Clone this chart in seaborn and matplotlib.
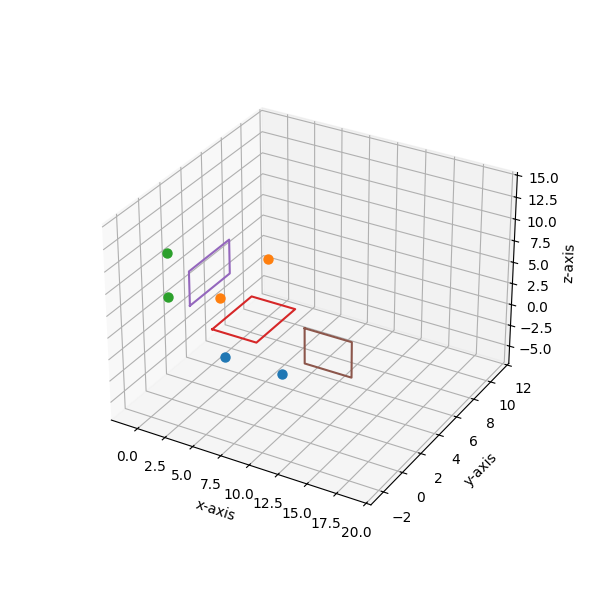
import matplotlib
matplotlib.use("Agg")
import matplotlib.pyplot as plt
import seaborn as sns

# === Data ===
blue_x = [5, 10]
blue_y = [0, 0]
blue_z = [0, 0]
orange_x = [0, 0]
orange_y = [5, 10]
orange_z = [0, 0]
green_x = [0, 0]
green_y = [0, 0]
green_z = [5, 10]
red_x = [2, 2, 6, 6, 2]
red_y = [2, 6, 6, 2, 2]
red_z = [0, 0, 0, 0, 0]
purple_x = [0, 0, 0, 0, 0]
purple_y = [2, 2, 6, 6, 2]
purple_z = [2, 6, 6, 2, 2]
brown_x = [12, 16, 16, 12, 12]
brown_y = [0, 0, 0, 0, 0]
brown_z = [6, 6, 2, 2, 6]

x_ticks = [0, 2.5, 5, 7.5, 10, 12.5, 15, 17.5, 20]
y_ticks = [-2, 0, 2, 4, 6, 8, 10, 12]
z_ticks = [-5, -2.5, 0, 2.5, 5, 7.5, 10, 12.5, 15]

# === Settings ===
sns.reset_orig()
palette = sns.color_palette("tab10")

fig = plt.figure(figsize=(6, 6), dpi=100)
ax = fig.add_subplot(projection="3d")

# === Points and rectangles ===
ax.scatter(blue_x, blue_y, blue_z, color=palette[0], s=42, depthshade=False)
ax.scatter(orange_x, orange_y, orange_z, color=palette[1], s=42, depthshade=False)
ax.scatter(green_x, green_y, green_z, color=palette[2], s=42, depthshade=False)
ax.plot(red_x, red_y, red_z, color=palette[3])
ax.plot(purple_x, purple_y, purple_z, color=palette[4])
ax.plot(brown_x, brown_y, brown_z, color=palette[5])

ax.set_xlim(-2.4, 20.4)
ax.set_ylim(-3.3, 12.2)
ax.set_zlim(-7.1, 15.3)
ax.set_xticks(x_ticks)
ax.set_yticks(y_ticks)
ax.set_zticks(z_ticks)
ax.set_xlabel("x-axis")
ax.set_ylabel("y-axis")
ax.set_zlabel("z-axis")

fig.savefig("out.png", dpi=100)
